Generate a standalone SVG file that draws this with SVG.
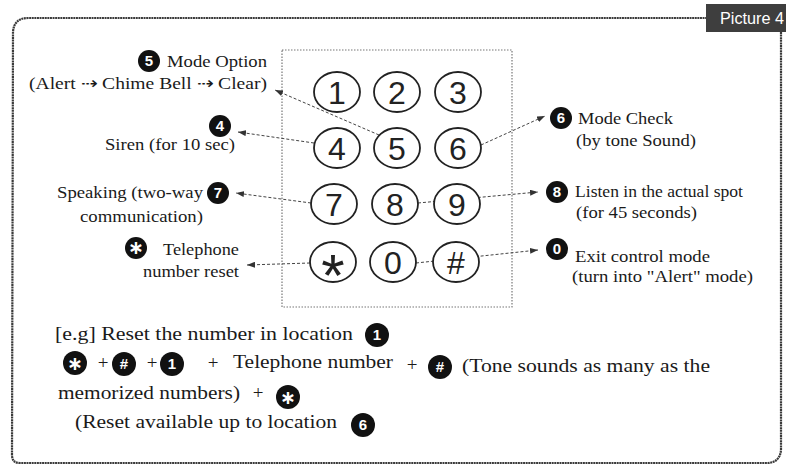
<svg xmlns="http://www.w3.org/2000/svg" width="786" height="468" viewBox="0 0 786 468">
<defs>
<style>
.lbl{font-family:"Liberation Serif","Times New Roman",serif;font-size:16.5px;fill:#1a1a1a}
.big{font-size:19px}
.key ellipse{fill:#fff;stroke:#222;stroke-width:1.8}
.key text{font-family:"Liberation Sans",Arial,sans-serif;font-size:32px;fill:#222;text-anchor:middle}
.badge circle{fill:#111}
.badge text{font-family:"Liberation Sans",Arial,sans-serif;font-weight:bold;font-size:15px;fill:#fff;text-anchor:middle}
.badge text.ast{font-family:"DejaVu Sans",sans-serif;font-size:19px}
.conn{stroke:#444;stroke-width:1;stroke-dasharray:3 2;fill:none;marker-end:url(#arr)}
.frame{fill:none;stroke:#3a3a3a;stroke-width:2.2;stroke-dasharray:2 0.6}
.pad{fill:none;stroke:#777;stroke-width:1.2;stroke-dasharray:1.5 1.5}
</style>
<marker id="arr" viewBox="0 0 8 6" refX="8" refY="3" markerWidth="8" markerHeight="6" orient="auto" markerUnits="userSpaceOnUse">
<path d="M0,0 L8,3 L0,6 z" fill="#333"/>
</marker>
</defs>
<rect width="786" height="468" fill="#fff"/>
<g id="frame">
<path class="frame" d="M12,455 L13,32 Q14,18 28,18 L706,18 M781,32 L781,450 Q780,462 768,463 L20,463 Q12,463 12,455"/>
<rect x="706" y="4" width="80" height="28" fill="#3e3e3e"/>
<text x="720" y="24" font-family="'Liberation Sans',Arial,sans-serif" font-size="17" fill="#fff" textLength="64" lengthAdjust="spacingAndGlyphs">Picture 4</text>
</g>
<g id="keypad-box"><rect class="pad" x="282" y="50" width="230" height="257"/></g>
<g id="connectors">
<line class="conn" x1="379" y1="135" x2="275" y2="90"/>
<line class="conn" x1="314" y1="143" x2="238" y2="132"/>
<line class="conn" x1="481" y1="145" x2="545" y2="116"/>
<line class="conn" x1="311" y1="203" x2="236" y2="193"/>
<line class="conn" x1="310" y1="263" x2="247" y2="265"/>
<line class="conn" x1="418" y1="203" x2="538" y2="192"/>
<line class="conn" x1="416" y1="263" x2="538" y2="250"/>
</g>
<g id="key-1" class="key"><ellipse cx="337" cy="92" rx="23" ry="20"/><text x="337" y="103.5">1</text></g>
<g id="key-2" class="key"><ellipse cx="397" cy="92" rx="23" ry="20"/><text x="397" y="103.5">2</text></g>
<g id="key-3" class="key"><ellipse cx="458" cy="92" rx="23" ry="20"/><text x="458" y="103.5">3</text></g>
<g id="key-4" class="key"><ellipse cx="337" cy="148" rx="23" ry="20"/><text x="337" y="159.5">4</text></g>
<g id="key-5" class="key"><ellipse cx="397" cy="148" rx="23" ry="20"/><text x="397" y="159.5">5</text></g>
<g id="key-6" class="key"><ellipse cx="458" cy="148" rx="23" ry="20"/><text x="458" y="159.5">6</text></g>
<g id="key-7" class="key"><ellipse cx="334" cy="204" rx="23" ry="20"/><text x="334" y="215.5">7</text></g>
<g id="key-8" class="key"><ellipse cx="395" cy="204" rx="23" ry="20"/><text x="395" y="215.5">8</text></g>
<g id="key-9" class="key"><ellipse cx="457" cy="204" rx="23" ry="20"/><text x="457" y="215.5">9</text></g>
<g id="key-star" class="key"><ellipse cx="333" cy="262" rx="23" ry="20"/><text x="333" y="296" style="font-size:60px">*</text></g>
<g id="key-0" class="key"><ellipse cx="393" cy="262" rx="23" ry="20"/><text x="393" y="273.5">0</text></g>
<g id="key-hash" class="key"><ellipse cx="456" cy="262" rx="23" ry="20"/><text x="456" y="273.5">#</text></g>

<g id="label-mode-option">
<g class="badge"><circle cx="149" cy="61" r="11"/><text x="149" y="66.4">5</text></g>
<text class="lbl" x="167" y="67" textLength="100" lengthAdjust="spacingAndGlyphs">Mode Option</text>
<text class="lbl" x="29" y="89" textLength="238" lengthAdjust="spacingAndGlyphs">(Alert ⇢ Chime Bell ⇢ Clear)</text>
</g>
<g id="label-siren">
<g class="badge"><circle cx="220" cy="126" r="11"/><text x="220" y="131.4">4</text></g>
<text class="lbl" x="105" y="150" textLength="130" lengthAdjust="spacingAndGlyphs">Siren (for 10 sec)</text>
</g>
<g id="label-mode-check">
<g class="badge"><circle cx="561" cy="118" r="11"/><text x="561" y="123.4">6</text></g>
<text class="lbl" x="578" y="124" textLength="95" lengthAdjust="spacingAndGlyphs">Mode Check</text>
<text class="lbl" x="576" y="146" textLength="120" lengthAdjust="spacingAndGlyphs">(by tone Sound)</text>
</g>
<g id="label-speaking">
<text class="lbl" x="57" y="198" textLength="146" lengthAdjust="spacingAndGlyphs">Speaking (two-way</text>
<g class="badge"><circle cx="218" cy="193" r="11"/><text x="218" y="198.4">7</text></g>
<text class="lbl" x="80" y="222" textLength="123" lengthAdjust="spacingAndGlyphs">communication)</text>
</g>
<g id="label-reset">
<g class="badge"><circle cx="136" cy="248" r="11"/><text class="ast" x="136" y="254">∗</text></g>
<text class="lbl" x="163" y="255" textLength="76" lengthAdjust="spacingAndGlyphs">Telephone</text>
<text class="lbl" x="143" y="277" textLength="96" lengthAdjust="spacingAndGlyphs">number reset</text>
</g>
<g id="label-listen">
<g class="badge"><circle cx="557" cy="192" r="11"/><text x="557" y="197.4">8</text></g>
<text class="lbl" x="575" y="197" textLength="168" lengthAdjust="spacingAndGlyphs">Listen in the actual spot</text>
<text class="lbl" x="576" y="218" textLength="121" lengthAdjust="spacingAndGlyphs">(for 45 seconds)</text>
</g>
<g id="label-exit">
<g class="badge"><circle cx="557" cy="249" r="11"/><text x="557" y="254.4">0</text></g>
<text class="lbl" x="575" y="262" textLength="135" lengthAdjust="spacingAndGlyphs">Exit control mode</text>
<text class="lbl" x="572" y="282" textLength="181" lengthAdjust="spacingAndGlyphs">(turn into "Alert" mode)</text>
</g>
<g id="example">
<text class="lbl big" x="55" y="340" textLength="298" lengthAdjust="spacingAndGlyphs">[e.g] Reset the number in location</text>
<g class="badge"><circle cx="377" cy="335" r="12"/><text x="377" y="340.4">1</text></g>
<g class="badge"><circle cx="75" cy="363" r="12"/><text class="ast" x="75" y="369.5">∗</text></g>
<text class="lbl big" x="103" y="369" text-anchor="middle">+</text>
<g class="badge"><circle cx="124" cy="364" r="12"/><text x="124" y="369.4">#</text></g>
<text class="lbl big" x="152" y="369" text-anchor="middle">+</text>
<g class="badge"><circle cx="172" cy="364" r="12"/><text x="172" y="369.4">1</text></g>
<text class="lbl big" x="213" y="369" text-anchor="middle">+</text>
<text class="lbl big" x="233" y="368" textLength="160" lengthAdjust="spacingAndGlyphs">Telephone number</text>
<text class="lbl big" x="412" y="371" text-anchor="middle">+</text>
<g class="badge"><circle cx="440" cy="367" r="12"/><text x="440" y="372.4">#</text></g>
<text class="lbl big" x="462" y="372" textLength="248" lengthAdjust="spacingAndGlyphs">(Tone sounds as many as the</text>
<text class="lbl big" x="58" y="399" textLength="182" lengthAdjust="spacingAndGlyphs">memorized numbers)</text>
<text class="lbl big" x="258" y="399" text-anchor="middle">+</text>
<g class="badge"><circle cx="288" cy="397" r="12"/><text class="ast" x="288" y="403.5">∗</text></g>
<text class="lbl big" x="75" y="428" textLength="262" lengthAdjust="spacingAndGlyphs">(Reset available up to location</text>
<g class="badge"><circle cx="363" cy="425" r="12"/><text x="363" y="430.4">6</text></g>
</g>
</svg>
